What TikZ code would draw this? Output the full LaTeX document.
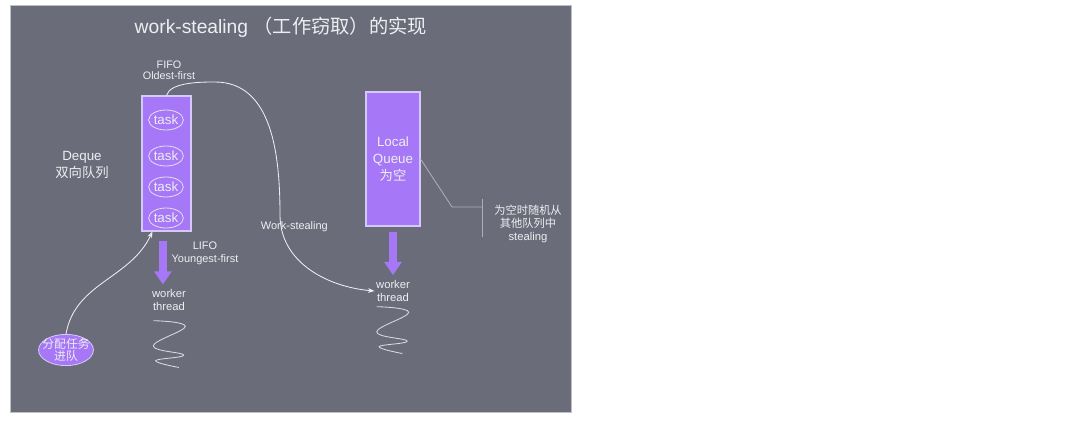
\documentclass[tikz,border=0pt]{standalone}
\usepackage{fontspec}
\setmainfont{Liberation Sans}
\newfontfamily\cjk{Noto Sans CJK SC}
\usetikzlibrary{shapes.geometric,arrows.meta,positioning,calc}
\definecolor{slidegray}{RGB}{106,109,121}
\definecolor{slideedge}{RGB}{190,192,200}
\definecolor{queuefill}{RGB}{166,119,246}
\definecolor{queueedge}{RGB}{214,200,250}
\definecolor{inktext}{RGB}{238,238,242}
\definecolor{calloutc}{RGB}{172,174,184}

\begin{document}
\begin{tikzpicture}[
  slidetitle/.style={font=\fontsize{13.7}{16}\selectfont, text=inktext},
  qbox/.style={draw=queueedge, fill=queuefill, thick, align=center, text=inktext, font=\fontsize{9.5}{12}\selectfont, inner sep=0pt},
  taskell/.style={ellipse, draw=inktext!85!queuefill, semithick, minimum width=0.83cm, minimum height=0.5cm, inner sep=0pt, font=\fontsize{9.5}{10}\selectfont, text=inktext},
  note/.style={align=center, text=inktext, font=\fontsize{7.8}{9}\selectfont, inner sep=1pt},
  bignote/.style={align=center, text=inktext, font=\fontsize{9.5}{11.5}\selectfont, inner sep=1pt},
  fatarr/.style={-{Triangle[length=3.3mm,width=4.2mm]}, line width=2mm, queuefill},
  thinarr/.style={-{Stealth[length=1.6mm]}, semithick, inktext},
  callout/.style={calloutc, semithick},
  spring/.pic={
    \draw[inktext!85!slidegray, semithick] plot[smooth, tension=0.7] coordinates {(0,0) (0.8,-0.14) (0,-0.63) (0.76,-0.86) (0.06,-1.0) (0.64,-1.17)};
  }
]
% ================= SLIDE =================
\fill[white] (0,0) rectangle (27.3,10.5);
\draw[slideedge, fill=slidegray] (0.25,0.2) rectangle (14.275,10.375);
\node[slidetitle] (title) at (7.02,9.825) {work-stealing {\cjk （工作窃取）的实现}};

% ================= LEFT: DEQUE =================
\node[qbox, minimum width=1.225cm, minimum height=3.375cm] (deque) at (4.1625,6.4125) {};
\foreach \y/\n in {7.5/1, 6.6/2, 5.825/3, 5.05/4}{
  \node[taskell] (task\n) at (4.15,\y) {task};
}
\node[note, font=\fontsize{7.7}{8.2}\selectfont] (fifo) at (4.225,8.74) {FIFO\\ Oldest-first};
\node[bignote] (dqlbl) at (2.05,6.375) {Deque\\ {\cjk 双向队列}};

% --- pop by own worker ---
\node[note] (lifo) at (5.125,4.1625) {LIFO\\ Youngest-first};
\node[note, font=\fontsize{8}{8.6}\selectfont] (wt1) at (4.225,3.0) {worker\\ thread};
\draw[fatarr] ($(deque.south)+(-0.09,-0.225)$) -- ($(deque.south |- wt1.north)+(-0.09,0.09)$);
\pic at (3.833,2.483) {spring};

% --- enqueue ---
\node[ellipse, draw=queueedge, fill=queuefill, semithick, inner xsep=-3pt, inner ysep=-1.5pt, minimum width=1.35cm, minimum height=0.78cm, align=center, text=inktext, font=\cjk\fontsize{8.4}{9.2}\selectfont] (enq) at (1.65,1.75) {分配任务\\ 进队};
\draw[thinarr] (enq.north) to[out=80,in=245] ([xshift=2.75mm]deque.south west);

% --- steal ---
\node[note, font=\fontsize{8}{8.6}\selectfont] (wt2) at (9.825,3.225) {worker\\ thread};
\draw[thinarr] (deque.north) to[out=75,in=180,looseness=0.7] (5.375,8.45) to[out=0,in=90] (7.0,5.125) to[out=-90,in=175] (wt2.west);
\node[note] (stlbl) at (7.36,4.825) {Work-stealing};

% ================= RIGHT: EMPTY QUEUE =================
\node[qbox, minimum width=1.35cm, minimum height=3.35cm, font=\fontsize{9.5}{12}\selectfont] (lq) at (9.825,6.525) {Local\\ Queue\\ {\cjk 为空}};
\draw[fatarr] ([yshift=-1.25mm]lq.south) -- ([yshift=1mm]wt2.north);
\pic at (9.418,2.833) {spring};

% --- callout ---
\coordinate (bend) at (11.3,5.325);
\coordinate (brk) at (12.05,5.325);
\draw[callout] (lq.east) -- (bend) -- (brk);
\draw[callout] ([yshift=2mm]brk) -- ([yshift=-7.5mm]brk);
\node[note, font=\fontsize{8}{9.2}\selectfont] (empty) at (13.2,4.9) {{\cjk 为空时随机从}\\ {\cjk 其他队列中}\\ stealing};
\end{tikzpicture}
\end{document}
